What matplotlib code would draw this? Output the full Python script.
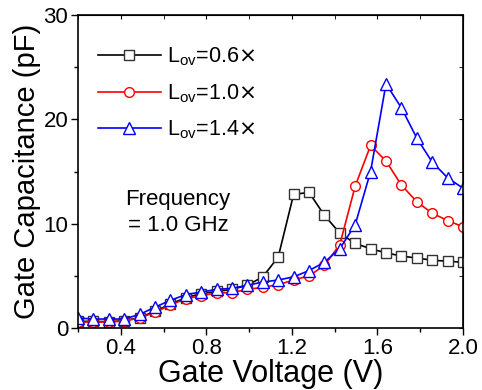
import numpy as np
import matplotlib.pyplot as plt
from matplotlib.ticker import MultipleLocator

plt.rcParams['font.family'] = ['Liberation Sans', 'DejaVu Sans']

# gate voltage sweep (V)
vg = np.linspace(0.2, 2.0, 26)

# gate capacitance (pF) for three overlap lengths
c_06 = [0.64, 0.64, 0.6, 0.7, 1.0, 1.6, 2.3, 2.9, 3.3, 3.5, 3.7, 4.1, 4.9,
        6.8, 12.8, 13.0, 10.8, 9.1, 8.1, 7.6, 7.2, 6.9, 6.7, 6.5, 6.4, 6.3]
c_10 = [0.57, 0.57, 0.57, 0.67, 0.96, 1.5, 2.2, 2.8, 3.1, 3.35, 3.4, 3.7, 3.9,
        4.15, 4.6, 5.0, 6.0, 8.0, 13.6, 17.5, 16.0, 13.7, 12.1, 11.0, 10.3, 9.7]
c_14 = [0.96, 0.86, 0.86, 0.86, 1.3, 2.0, 2.65, 3.2, 3.45, 3.7, 3.8, 4.1, 4.4,
        4.6, 4.9, 5.5, 6.3, 7.6, 9.9, 15.0, 23.4, 21.1, 18.2, 15.9, 14.4, 13.4]

labels = [r'L$_{\mathregular{ov}}$=0.6$\times$',
          r'L$_{\mathregular{ov}}$=1.0$\times$',
          r'L$_{\mathregular{ov}}$=1.4$\times$']
xticks = [0.4, 0.8, 1.2, 1.6, 2.0]

fig = plt.figure(figsize=(4.82, 3.9), dpi=100)
ax = fig.add_axes([78/482, 1 - 328/390, (463-78)/482, (328-15)/390])

ax.plot(vg, c_06, '-s', color='black', mfc='white', mec='#333333', ms=7, lw=1.2, label=labels[0])
ax.plot(vg, c_10, '-o', color='red', mfc='white', mec='red', ms=7, lw=1.2, label=labels[1])
ax.plot(vg, c_14, '-^', color='blue', mfc='white', mec='blue', ms=8, lw=1.2, label=labels[2])

ax.set_xlim(0.2, 2.0)
ax.set_ylim(0, 30)
ax.set_xticks(xticks)
ax.xaxis.set_minor_locator(MultipleLocator(0.2))
ax.yaxis.set_major_locator(MultipleLocator(10))
ax.yaxis.set_minor_locator(MultipleLocator(5))
ax.tick_params(which='both', direction='out', labelsize=16, width=1, pad=2)
ax.tick_params(which='major', length=5)
ax.tick_params(which='minor', length=3)

# inward ticks on the top and right frame
sx = ax.secondary_xaxis('top')
sx.set_xticks(xticks)
sx.xaxis.set_minor_locator(MultipleLocator(0.2))
sx.tick_params(which='both', direction='in', labeltop=False, length=3)
sy = ax.secondary_yaxis('right')
sy.yaxis.set_major_locator(MultipleLocator(10))
sy.yaxis.set_minor_locator(MultipleLocator(5))
sy.tick_params(which='both', direction='in', labelright=False, length=3)

for s in ax.spines.values():
    s.set_linewidth(1.2)

ax.set_xlabel('Gate Voltage (V)', fontsize=22, labelpad=0)
ax.set_ylabel('Gate Capacitance (pF)', fontsize=21, labelpad=2)

ax.legend(loc='upper left', frameon=False, fontsize=15.5, handlelength=2.9,
          handletextpad=0.3, labelspacing=0.65, borderaxespad=0.0,
          bbox_to_anchor=(0.03, 0.93))

ax.text(0.26, 0.37, 'Frequency\n= 1.0 GHz', transform=ax.transAxes,
        ha='center', va='center', fontsize=16, linespacing=1.3)

fig.savefig('out.png', dpi=100)
